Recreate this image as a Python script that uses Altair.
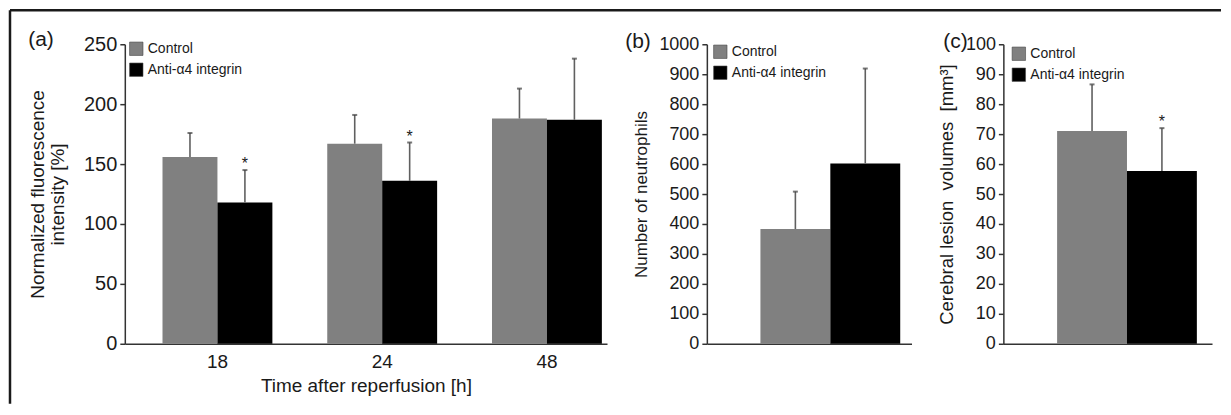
import altair as alt
import pandas as pd

# ---------------- data ----------------
groups = ["Control", "Anti-α4 integrin"]
colors = ["#808080", "#000000"]

# panel (a)
times = ["18", "24", "48"]
a_control = [156, 167, 188]
a_control_err = [20, 24, 25]
a_anti = [118, 136, 187]
a_anti_err = [27, 32, 51]
a_anti_star = [True, True, False]

# panel (b)
b_values = [383, 602]
b_errors = [125, 317]
b_star = [False, False]

# panel (c)
c_values = [71, 57.7]
c_errors = [15.6, 14.3]
c_star = [False, True]

FONT = "Liberation Sans"
TXT = "#1a1a1a"

# ---------------- tables ----------------
rows = []
for i, t in enumerate(times):
    rows.append(dict(time=t, group=groups[0], value=a_control[i], hi=a_control[i] + a_control_err[i], star=False))
    rows.append(dict(time=t, group=groups[1], value=a_anti[i], hi=a_anti[i] + a_anti_err[i], star=a_anti_star[i]))
df_a = pd.DataFrame(rows)

df_b = pd.DataFrame(dict(group=groups, value=b_values,
                         hi=[v + e for v, e in zip(b_values, b_errors)], star=b_star))
df_c = pd.DataFrame(dict(group=groups, value=c_values,
                         hi=[v + e for v, e in zip(c_values, c_errors)], star=c_star))

one = pd.DataFrame({"k": [0]})


def legend(x, y):
    return alt.Legend(orient="none", legendX=x, legendY=y, title=None,
                      symbolType="square", symbolSize=180, symbolStrokeWidth=0.6,
                      symbolStrokeColor="#444444", labelFontSize=14, labelFont=FONT,
                      labelColor=TXT, rowPadding=4, labelOffset=4, padding=0)


def color(lg):
    return alt.Color("group:N", scale=alt.Scale(domain=groups, range=colors), legend=lg)


def build(df, x_enc, xoff, y_scale, y_axis, lg, letter, letter_xy, w, h, extra=None):
    enc = dict(x=x_enc)
    if xoff is not None:
        enc["xOffset"] = xoff
    bars = alt.Chart(df).mark_bar().encode(
        y=alt.Y("value:Q", scale=y_scale, axis=y_axis), color=color(lg), **enc)
    err = alt.Chart(df).mark_rule(color="#606060", strokeWidth=1.6).encode(
        y=alt.Y("value:Q", scale=y_scale, axis=y_axis), y2="hi:Q", **enc)
    cap = alt.Chart(df).mark_tick(color="#404040", thickness=2, size=5).encode(
        y=alt.Y("hi:Q", scale=y_scale, axis=y_axis), **enc)
    stars = alt.Chart(df).transform_filter("datum.star").mark_text(
        text="*", fontSize=16, font=FONT, color=TXT, baseline="alphabetic", dy=-1).encode(
        y=alt.Y("hi:Q", scale=y_scale, axis=y_axis), **enc)
    lab = alt.Chart(one).mark_text(text=letter, fontSize=21, font=FONT, color=TXT,
                                   align="center", baseline="middle").encode(
        x=alt.value(letter_xy[0]), y=alt.value(letter_xy[1]))
    layers = [bars, err, cap, stars, lab]
    if extra:
        layers += extra
    return alt.layer(*layers).properties(width=w, height=h)


# frame of the figure (left & top border)
frame_top = alt.Chart(one).mark_rule(color="#1a1a1a", strokeWidth=2.5).encode(
    x=alt.value(-115), x2=alt.value(1098), y=alt.value(-34))
frame_left = alt.Chart(one).mark_rule(color="#1a1a1a", strokeWidth=2.5).encode(
    x=alt.value(-115), y=alt.value(-34), y2=alt.value(360))

# ---------------- panel (a) ----------------
xa = alt.X("time:N", sort=times,
           scale=alt.Scale(paddingInner=0.333, paddingOuter=0.13, align=0.88),
           axis=alt.Axis(title="Time after reperfusion [h]", labelAngle=0, ticks=False,
                         labelFontSize=19, titleFontSize=19,
                         labelPadding=9, titlePadding=5))
xoff_a = alt.XOffset("group:N", sort=groups, scale=alt.Scale(paddingInner=0, paddingOuter=0))
ya_axis = alt.Axis(values=list(range(0, 251, 50)),
                   title=["Normalized fluorescence", "intensity [%]"],
                   labelFontSize=20, titleFontSize=19, labelOverlap=False,
                   titleLineHeight=20, titlePadding=16)
chart_a = build(df_a, xa, xoff_a, alt.Scale(domain=[0, 250], nice=False), ya_axis,
                legend(4, -3), "(a)", (-84, -4), 483, 300,
                extra=[frame_top, frame_left])

# ---------------- panel (b) ----------------
xb = alt.X("group:N", sort=groups,
           scale=alt.Scale(paddingInner=0, paddingOuter=0.464, align=0.826),
           axis=alt.Axis(title=None, labels=False, ticks=False))
yb_axis = alt.Axis(values=list(range(0, 1001, 100)), title="Number of neutrophils",
                   format="d", labelOverlap=False, labelFontSize=18, titleFontSize=17,
                   titlePadding=8)
chart_b = build(df_b, xb, None, alt.Scale(domain=[0, 1000], nice=False), yb_axis,
                legend(6, 0), "(b)", (-69, -2), 205, 300)

# ---------------- panel (c) ----------------
xc = alt.X("group:N", sort=groups,
           scale=alt.Scale(paddingInner=0, paddingOuter=0.493, align=0.78),
           axis=alt.Axis(title=None, labels=False, ticks=False))
yc_axis = alt.Axis(values=list(range(0, 101, 10)),
                   title="Cerebral lesion\u00a0 volumes\u00a0 [mm³]", format="d",
                   labelOverlap=False, labelFontSize=18, titleFontSize=18.5,
                   titlePadding=9)
chart_c = build(df_c, xc, None, alt.Scale(domain=[0, 100], nice=False), yc_axis,
                legend(8, 2), "(c)", (-48, -2), 209, 300)

inner = alt.HConcatChart(hconcat=[chart_b, chart_c], spacing=92, bounds="flush") \
    .resolve_scale(color="independent", x="independent", y="independent") \
    .resolve_legend(color="independent")

chart = alt.HConcatChart(hconcat=[chart_a, inner], spacing=100, bounds="flush") \
    .resolve_scale(color="independent", x="independent", y="independent") \
    .resolve_legend(color="independent") \
    .properties(padding=0) \
    .configure(font=FONT) \
    .configure_view(stroke=None) \
    .configure_axis(labelFont=FONT, titleFont=FONT, labelFontSize=18, titleFontSize=18,
                    titleFontWeight="normal", labelColor=TXT, titleColor=TXT,
                    domainColor="#333333", domainWidth=1.5, tickColor="#333333",
                    tickWidth=1.5, tickSize=5, labelPadding=3, grid=False)

chart.save("out.html", embed_options={"renderer": "svg", "actions": False})
